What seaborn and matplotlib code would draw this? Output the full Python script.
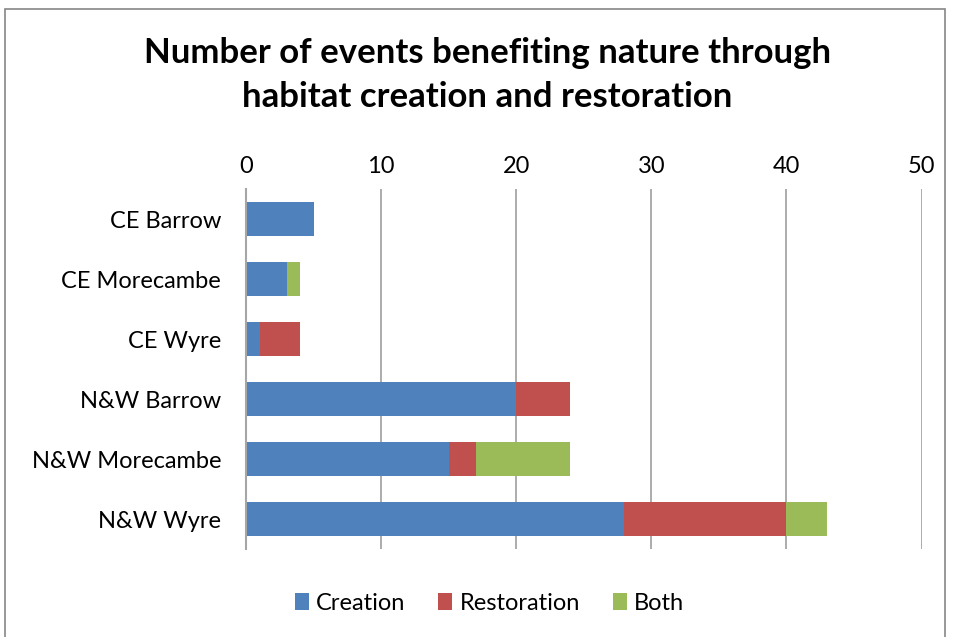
import seaborn as sns
import matplotlib.pyplot as plt
import pandas as pd
from matplotlib.patches import Rectangle

# data
sites = ["CE Barrow", "CE Morecambe", "CE Wyre", "N&W Barrow", "N&W Morecambe", "N&W Wyre"]
creation = [5, 3, 1, 20, 15, 28]
restoration = [0, 0, 3, 4, 2, 12]
both = [0, 1, 0, 0, 7, 3]

colors = {"Creation": "#4F81BD", "Restoration": "#C0504D", "Both": "#9BBB59"}

sns.set_style("white")
plt.rcParams["font.family"] = ["Lato", "DejaVu Sans"]
plt.rcParams["text.color"] = "black"
plt.rcParams["xtick.color"] = "black"
plt.rcParams["ytick.color"] = "black"

df = pd.DataFrame({"site": sites, "Creation": creation,
                   "Restoration": restoration, "Both": both})
# cumulative totals so the layers can be overdrawn as stacked bars
df["cum_rest"] = df["Creation"] + df["Restoration"]
df["cum_both"] = df["cum_rest"] + df["Both"]

fig = plt.figure(figsize=(9.54, 6.37), dpi=100)
ax = fig.add_axes([0.258, 0.138, 0.708, 0.565])

for col, name in [("cum_both", "Both"), ("cum_rest", "Restoration"), ("Creation", "Creation")]:
    sns.barplot(data=df, y="site", x=col, color=colors[name], width=0.57,
                orient="h", ax=ax, label=name, saturation=1, linewidth=0)

ax.set_xlim(0, 50)
ax.set_xticks([0, 10, 20, 30, 40, 50])
ax.xaxis.tick_top()
ax.tick_params(axis="both", length=0, labelsize=17)
ax.tick_params(axis="y", pad=18)
ax.tick_params(axis="x", pad=9)
ax.set_xlabel("")
ax.set_ylabel("")
ax.grid(axis="x", color="#A6A6A6", linewidth=1.3)
ax.set_axisbelow(True)
for s in ["top", "right", "bottom"]:
    ax.spines[s].set_visible(False)
ax.spines["left"].set_color("#A6A6A6")
ax.spines["left"].set_linewidth(1.5)

handles, labels = ax.get_legend_handles_labels()
ax.get_legend().remove()
order = ["Creation", "Restoration", "Both"]
hmap = dict(zip(labels, handles))
fig.legend([hmap[k] for k in order], order, loc="center", bbox_to_anchor=(0.513, 0.053),
           ncol=3, frameon=False, fontsize=17, handlelength=0.6, handleheight=0.7,
           handletextpad=0.3, columnspacing=1.4)

fig.text(0.511, 0.882, "Number of events benefiting nature through\nhabitat creation and restoration",
         ha="center", va="center", fontsize=25, fontweight="bold", linespacing=1.45)

fig.patches.append(Rectangle((0.005, -0.01), 0.986, 0.996, transform=fig.transFigure,
                             fill=False, edgecolor="#868686", linewidth=1.2))

fig.savefig("out.png", dpi=100)
